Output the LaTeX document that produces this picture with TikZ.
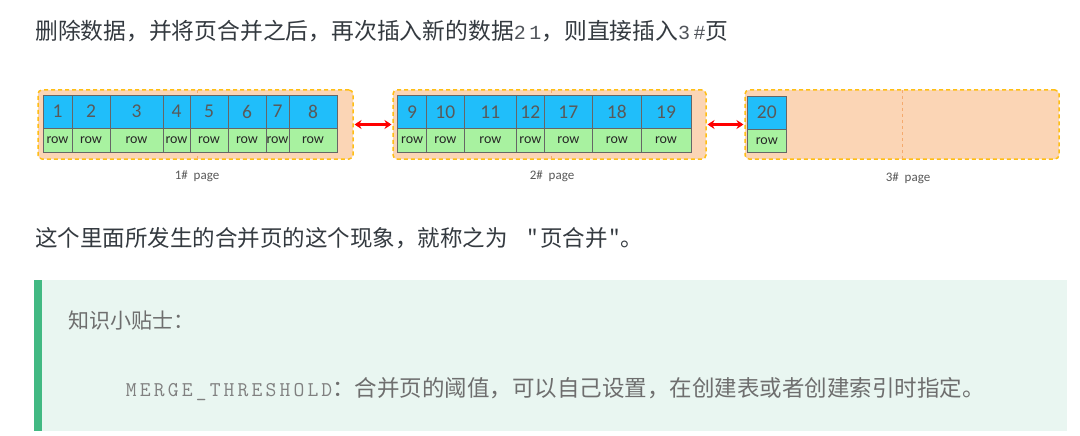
\documentclass[tikz,border=0pt]{standalone}
\usepackage{fontspec}
\setmainfont{Carlito}
\newfontfamily\cjk{Noto Sans CJK SC}
\newfontfamily\monoA[LetterSpace=17]{Liberation Mono}
\newfontfamily\courier[LetterSpace=15]{Latin Modern Mono}
\usetikzlibrary{arrows.meta}
\definecolor{cellblue}{RGB}{32,190,250}
\definecolor{cellgreen}{RGB}{168,242,160}
\definecolor{pagefill}{RGB}{251,213,181}
\definecolor{pageborder}{RGB}{255,190,20}
\definecolor{midcol}{RGB}{245,170,110}
\definecolor{numgray}{RGB}{89,89,89}
\definecolor{txtdark}{RGB}{52,58,64}
\definecolor{txtmono}{RGB}{80,84,90}
\definecolor{tipbg}{RGB}{233,246,241}
\definecolor{tipbar}{RGB}{66,185,131}
\definecolor{tipgray}{RGB}{110,110,110}
\definecolor{tipmono}{RGB}{128,128,128}
\tikzset{
  pageframe/.style={draw=pageborder, fill=pagefill, dashed, dash pattern=on 4pt off 3pt, line width=1.5pt, rounded corners=4pt, inner sep=0pt, outer sep=0pt},
  midline/.style={draw=midcol, dashed, dash pattern=on 3pt off 3pt, line width=0.6pt},
  bluecell/.style={draw=gray!80!black, fill=cellblue, line width=0.7pt, inner sep=0pt, outer sep=0pt, minimum height=33pt, text=numgray, font=\fontsize{19.5}{22}\selectfont},
  greencell/.style={draw=gray!80!black, fill=cellgreen, line width=0.7pt, inner sep=0pt, outer sep=0pt, minimum height=24pt, text=black!85, font=\fontsize{14}{16}\selectfont},
  redarrow/.style={draw=red, line width=2.2pt, {Stealth[length=7pt,width=9pt]}-{Stealth[length=7pt,width=9pt]}, shorten <=1.5pt, shorten >=1.5pt},
  pagelabel/.style={text=numgray, font=\fontsize{13}{15}\selectfont, inner sep=0pt},
  bodytext/.style={anchor=base west, inner sep=0pt, text=txtdark, font=\cjk\fontsize{22.5}{27}\selectfont},
}
\begin{document}
\begin{tikzpicture}[x=1pt,y=-1pt]
\useasboundingbox (0,0) rectangle (1080,436);
\fill[white] (0,0) rectangle (1080,436);

% heading text
\node[bodytext, font=\cjk\fontsize{22.8}{27}\selectfont] (t1) at (35,40) {删除数据，并将页合并之后，再次插入新的数据{\color{txtmono}\monoA\fontsize{20}{24}\selectfont 21}，则直接插入{\color{txtmono}\monoA\fontsize{20}{24}\selectfont 3\#}页};

% page frames
\node[pageframe, minimum width=315pt, minimum height=69pt] (p1) at (195.5,124.5) {};
\node[pageframe, minimum width=313pt, minimum height=69pt] (p2) at (549.5,124.5) {};
\node[pageframe, minimum width=314pt, minimum height=69pt] (p3) at (902,124.5) {};
\draw[midline] ([xshift=1.5pt]p1.north) -- ([xshift=1.5pt]p1.south);
\draw[midline] ([xshift=1.5pt]p2.north) -- ([xshift=1.5pt]p2.south);
\draw[midline] (p3.north) -- (p3.south);

% page 1 cells
\foreach \a/\b/\t in {43/72/1, 72/110/2, 110/163/3, 163/190/4, 190/228/5, 228/266/6, 266/289/7, 289/337/8}{
  \node[bluecell, minimum width={(\b-\a)*1pt}] (n\t) at ({(\a+\b)/2},111.5) {\t};
  \node[greencell, minimum width={(\b-\a)*1pt}] (r\t) at ({(\a+\b)/2},140) {row};
}
% page 2 cells
\foreach \a/\b/\t in {397.5/426.7/9, 426.7/464/10, 464/516.7/11, 516.7/544/12, 544/592.7/17, 592.7/641/18, 641/691/19}{
  \node[bluecell, minimum width={(\b-\a)*1pt}] (n\t) at ({(\a+\b)/2},111.8) {\t};
  \node[greencell, minimum width={(\b-\a)*1pt}] (r\t) at ({(\a+\b)/2},140.1) {row};
}
% page 3 cell
\node[bluecell, minimum width=38.3pt] (n20) at (766.8,112.5) {20};
\node[greencell, minimum width=38.3pt, minimum height=23.5pt] (r20) at (766.8,140.9) {row};

% arrows between pages
\draw[redarrow] (p1.east) -- (p2.west);
\draw[redarrow] (p2.east) -- (p3.west);

% page labels
\node[pagelabel] (l1) at (197,176) {1\#\ \ page};
\node[pagelabel] (l2) at (552,176) {2\#\ \ page};
\node[pagelabel] (l3) at (908,178) {3\#\ \ page};

% second paragraph
\node[bodytext] (t2) at (35,246) {这个里面所发生的合并页的这个现象，就称之为\hspace{20pt}"\hspace{2pt}页合并\hspace{2pt}"。};

% tip box
\fill[tipbg] (34,280) rectangle (1067,431);
\fill[tipbar] (34,280) rectangle (42,431);
\node[bodytext, text=tipgray, font=\cjk\fontsize{21}{25}\selectfont] (tip) at (68,328) {知识小贴士：};
\node[bodytext, text=tipgray, anchor=base east] (merge) at (985,396) {{\color{tipmono}\courier\fontsize{21}{26}\selectfont MERGE\_THRESHOLD}：合并页的阈值，可以自己设置，在创建表或者创建索引时指定。};
\end{tikzpicture}
\end{document}
